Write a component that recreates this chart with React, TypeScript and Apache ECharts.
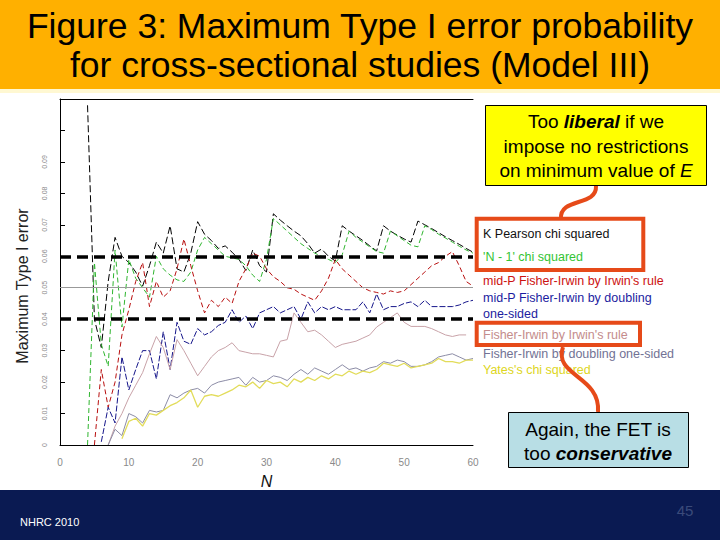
import React, { useEffect, useRef } from "react";
import * as echarts from "echarts";

const FONT = "'Liberation Sans', Arial, Helvetica, sans-serif";

// N = 4 .. 60
const N = [
  4, 5, 6, 7, 8, 9, 10, 11, 12, 13,
  14, 15, 16, 17, 18, 19, 20, 21, 22, 23,
  24, 25, 26, 27, 28, 29, 30, 31, 32, 33,
  34, 35, 36, 37, 38, 39, 40, 41, 42, 43,
  44, 45, 46, 47, 48, 49, 50, 51, 52, 53,
  54, 55, 56, 57, 58, 59, 60,
];

const pearson = [
  0.108, 0.040, 0.031, 0.052, 0.066, 0.060, 0.058, 0.055, 0.0505, 0.057,
  0.0645, 0.061, 0.0697, 0.056, 0.055, 0.061, 0.071, 0.067, 0.065, 0.0625,
  0.0633, 0.0613, 0.059, 0.0555, 0.062, 0.057, 0.055, 0.0735, 0.0715, 0.0697,
  0.068, 0.0665, 0.064, 0.061, 0.0623, 0.060, 0.0585, 0.0697, 0.068, 0.0665,
  0.065, 0.0633, 0.0617, 0.0697, 0.068, 0.0667, 0.0655, 0.0645, 0.0712, 0.070,
  0.0688, 0.0675, 0.0662, 0.065, 0.0638, 0.0625, 0.0613,
];

const nMinus1 = [
  0.000, 0.058, 0.032, 0.025, 0.062, 0.0375, 0.059, 0.053, 0.050, 0.047,
  0.060, 0.056, 0.054, 0.0525, 0.052, 0.055, 0.062, 0.066, 0.064, 0.062,
  0.060, 0.0595, 0.059, 0.057, 0.054, 0.052, 0.059, 0.072, 0.070, 0.068,
  0.066, 0.064, 0.0625, 0.061, 0.060, 0.059, 0.058, 0.0605, 0.068, 0.066,
  0.0645, 0.063, 0.0615, 0.061, 0.068, 0.0665, 0.065, 0.0635, 0.063, 0.0697,
  0.0685, 0.067, 0.0658, 0.0645, 0.0632, 0.062, 0.061,
];

const midPIrwin = [
  null, 0.000, 0.024, 0.012, 0.020, 0.035, 0.043, 0.052, 0.058, 0.044,
  0.052, 0.047, 0.049, 0.056, 0.0655, 0.057, 0.049, 0.042, 0.046, 0.044,
  0.047, 0.045, 0.052, 0.056, 0.061, 0.060, 0.056, 0.0535, 0.052, 0.050,
  0.0495, 0.048, 0.047, 0.046, 0.049, 0.053, 0.059, 0.056, 0.054, 0.052,
  0.050, 0.049, 0.0485, 0.048, 0.049, 0.0485, 0.049, 0.051, 0.053, 0.055,
  0.057, 0.058, 0.060, 0.0615, 0.057, 0.052, 0.0505,
];

const midPDoubling = [
  null, null, 0.001, 0.012, 0.007, 0.028, 0.0175, 0.024, 0.030, 0.030,
  0.021, 0.036, 0.024, 0.039, 0.033, 0.032, 0.037, 0.035, 0.036, 0.038,
  0.039, 0.043, 0.039, 0.041, 0.037, 0.042, 0.043, 0.044, 0.042, 0.043,
  0.044, 0.040, 0.0455, 0.042, 0.044, 0.043, 0.044, 0.043, 0.043, 0.043,
  0.0455, 0.042, 0.048, 0.043, 0.044, 0.044, 0.045, 0.0455, 0.044, 0.046,
  0.044, 0.044, 0.044, 0.044, 0.0445, 0.0455, 0.046,
];

const fisherIrwin = [
  null, null, null, 0.000, 0.006, 0.010, 0.015, 0.019, 0.023, 0.029,
  0.0345, 0.031, 0.024, 0.0335, 0.030, 0.026, 0.022, 0.025, 0.028, 0.030,
  0.031, 0.0325, 0.030, 0.0295, 0.029, 0.029, 0.0285, 0.028, 0.033, 0.0335,
  0.042, 0.039, 0.036, 0.0365, 0.035, 0.033, 0.031, 0.032, 0.0325, 0.033,
  0.034, 0.035, 0.0375, 0.039, 0.0405, 0.042, 0.039, 0.0377, 0.0377, 0.0377,
  0.037, 0.036, 0.035, 0.0345, 0.035, 0.035, null,
];

const fisherDoubling = [
  null, null, null, 0.000, 0.005, 0.003, 0.010, 0.009, 0.007, 0.011,
  0.0105, 0.011, 0.016, 0.015, 0.0165, 0.0175, 0.018, 0.0165, 0.019, 0.020,
  0.0205, 0.021, 0.0215, 0.019, 0.0215, 0.020, 0.0205, 0.022, 0.0215, 0.0205,
  0.0225, 0.024, 0.0225, 0.0245, 0.0235, 0.0225, 0.024, 0.0255, 0.024, 0.0245,
  0.0235, 0.0245, 0.025, 0.0265, 0.026, 0.027, 0.0265, 0.025, 0.025, 0.0255,
  0.0265, 0.028, 0.0285, 0.029, 0.028, 0.027, 0.0275,
];

const yates = [
  null, null, null, null, null, 0.002, 0.0075, 0.0085, 0.006, 0.010,
  0.0095, 0.011, 0.0125, 0.0135, 0.015, 0.0175, 0.012, 0.0155, 0.016, 0.0155,
  0.0165, 0.0175, 0.019, 0.0185, 0.020, 0.018, 0.0205, 0.0195, 0.020, 0.0185,
  0.021, 0.020, 0.0215, 0.0205, 0.022, 0.021, 0.0225, 0.022, 0.0235, 0.0225,
  0.0235, 0.023, 0.024, 0.026, 0.0255, 0.025, 0.026, 0.0245, 0.025, 0.0255,
  0.026, 0.0275, 0.0265, 0.0265, 0.026, 0.027, 0.027,
];

const referenceLevels = [0.06, 0.05, 0.04];

const seriesNames = [
  "K Pearson chi squared",
  "'N - 1' chi squared",
  "mid-P Fisher-Irwin by Irwin's rule",
  "mid-P Fisher-Irwin by doubling one-sided",
  "Fisher-Irwin by Irwin's rule",
  "Fisher-Irwin by doubling one-sided",
  "Yates's chi squared",
];

const legendLines = [
  { text: "K Pearson chi squared", color: "#111111" },
  { text: "'N - 1' chi squared", color: "#33c433" },
  { text: "mid-P Fisher-Irwin by Irwin's rule", color: "#cc1111" },
  { text: "mid-P Fisher-Irwin by doubling", color: "#1c1ca0" },
  { text: "one-sided", color: "#1c1ca0" },
  { text: "Fisher-Irwin by Irwin's rule", color: "#c48c8c" },
  { text: "Fisher-Irwin by doubling one-sided", color: "#727294" },
  { text: "Yates's chi squared", color: "#ddd622" },
];
const legendY = [234, 257, 281, 297.5, 313.5, 334.5, 353.5, 369.5];

const xTicks = [0, 10, 20, 30, 40, 50, 60];

export default function App() {
  const ref = useRef<HTMLDivElement>(null);

  useEffect(() => {
    if (!ref.current) return;
    const chart = echarts.init(ref.current, null, { renderer: "svg" });

    const toData = (arr: (number | null)[]) => N.map((n, i) => [n, arr[i]]);

    const lineDefs = [
      { data: pearson, color: "#000000", type: [7, 3] as any, width: 1 },
      { data: nMinus1, color: "#2fb52f", type: [5, 3] as any, width: 1 },
      { data: midPIrwin, color: "#b80f0f", type: [5, 3] as any, width: 1 },
      { data: midPDoubling, color: "#16168a", type: [6, 2] as any, width: 1 },
      { data: fisherIrwin, color: "#c8a2a8", type: "solid", width: 1 },
      { data: fisherDoubling, color: "#8c8ca6", type: "solid", width: 1 },
      { data: yates, color: "#e2dc5a", type: "solid", width: 1.3 },
    ];

    const series: any[] = lineDefs.map((d, i) => ({
      name: seriesNames[i],
      type: "line",
      data: toData(d.data),
      showSymbol: false,
      symbol: "none",
      connectNulls: false,
      silent: true,
      lineStyle: { color: d.color, type: d.type, width: d.width },
    }));

    series[series.length - 1].markLine = {
      silent: true,
      symbol: ["none", "none"],
      label: { show: false },
      data: referenceLevels.map((v) =>
        v === 0.05
          ? { yAxis: v, lineStyle: { color: "#999999", width: 1, type: "solid" } }
          : { yAxis: v, lineStyle: { color: "#000000", width: 3.5, type: [11, 6] } }
      ),
    };

    const legendGraphics = legendLines.map((l, i) => ({
      type: "text",
      x: 483,
      y: legendY[i],
      style: {
        text: l.text,
        fill: l.color,
        font: `12.5px ${FONT}`,
        align: "left",
        verticalAlign: "middle",
        textAlign: "left",
        textVerticalAlign: "middle",
      },
    }));

    const rich = (size: number, lh: number) => ({
      n: { fontSize: size, fontFamily: FONT, lineHeight: lh, fill: "#000" },
      b: { fontSize: size, fontFamily: FONT, lineHeight: lh, fontWeight: "bold", fontStyle: "italic", fill: "#000" },
      i: { fontSize: size, fontFamily: FONT, lineHeight: lh, fontStyle: "italic", fill: "#000" },
    });

    chart.setOption({
      animation: false,
      backgroundColor: "#ffffff",
      grid: { left: 60, top: 99, right: 247, bottom: 95, containLabel: false },
      xAxis: [
        {
          type: "value",
          min: xTicks[0],
          max: xTicks[xTicks.length - 1],
          interval: 10,
          axisLine: { show: true, lineStyle: { color: "#000", width: 1 } },
          axisTick: { show: false },
          splitLine: { show: false },
          axisLabel: { color: "#8a8a8a", fontSize: 10, margin: 12, fontFamily: FONT },
          name: "N",
          nameLocation: "middle",
          nameGap: 28,
          nameTextStyle: { fontStyle: "italic", fontSize: 16, color: "#111", fontFamily: FONT },
        },
        {
          type: "value",
          position: "top",
          min: 0,
          max: 60,
          axisLine: { show: true, lineStyle: { color: "#000", width: 1 } },
          axisTick: { show: false },
          axisLabel: { show: false },
          splitLine: { show: false },
        },
      ],
      yAxis: {
        type: "value",
        min: 0,
        max: 0.11,
        interval: 0.01,
        axisLine: { show: true, lineStyle: { color: "#000", width: 1 } },
        axisTick: { show: true, inside: true, length: 5, lineStyle: { color: "#000" } },
        splitLine: { show: false },
        axisLabel: {
          rotate: 90,
          fontSize: 7,
          color: "#8a8a8a",
          margin: 12,
          fontFamily: FONT,
          formatter: (v: number) => (v > 0.095 ? "" : v === 0 ? "0" : v.toFixed(2)),
        },
      },
      series,
      graphic: [
        { type: "rect", shape: { x: 0, y: 0, width: 720, height: 89 }, style: { fill: "#FFB000" } },
        { type: "rect", shape: { x: 0, y: 89, width: 720, height: 4 }, style: { fill: "#FFF8D2" } },
        {
          type: "text", x: 360, y: 26,
          style: { text: "Figure 3: Maximum Type I error probability", font: `35.5px ${FONT}`, fill: "#000",
            align: "center", verticalAlign: "middle", textAlign: "center", textVerticalAlign: "middle" },
        },
        {
          type: "text", x: 360, y: 65,
          style: { text: "for cross-sectional studies (Model III)", font: `35.5px ${FONT}`, fill: "#000",
            align: "center", verticalAlign: "middle", textAlign: "center", textVerticalAlign: "middle" },
        },
        {
          type: "text", x: 22, y: 286, rotation: Math.PI / 2,
          style: { text: "Maximum Type I error", font: `16px ${FONT}`, fill: "#222",
            align: "center", verticalAlign: "middle", textAlign: "center", textVerticalAlign: "middle" },
        },
        // yellow callout
        { type: "rect", shape: { x: 485.5, y: 105.5, width: 221, height: 80 }, style: { fill: "#FFFF00", stroke: "#000", lineWidth: 1 } },
        {
          type: "text", x: 596, y: 146,
          style: {
            text: "{n|Too }{b|liberal}{n| if we}\n{n|impose no restrictions}\n{n|on minimum value of }{i|E}",
            rich: rich(19, 24.5),
            align: "center", verticalAlign: "middle", textAlign: "center", textVerticalAlign: "middle",
          },
        },
        {
          type: "bezierCurve",
          shape: { x1: 596, y1: 186, cpx1: 597, cpy1: 207, cpx2: 559, cpy2: 197, x2: 561, y2: 219 },
          style: { stroke: "#E64A19", lineWidth: 4, fill: "none" },
        },
        // legend boxes
        { type: "rect", shape: { x: 476.7, y: 218.7, width: 166.6, height: 51.3 }, style: { fill: "none", stroke: "#E64A19", lineWidth: 4 } },
        { type: "rect", shape: { x: 476.7, y: 322.7, width: 163.3, height: 22.3 }, style: { fill: "none", stroke: "#E64A19", lineWidth: 4 } },
        ...legendGraphics,
        {
          type: "bezierCurve",
          shape: { x1: 563, y1: 347, cpx1: 553, cpy1: 376, cpx2: 601, cpy2: 376, x2: 598, y2: 412 },
          style: { stroke: "#E64A19", lineWidth: 4, fill: "none" },
        },
        // blue callout
        { type: "rect", shape: { x: 508.5, y: 412.5, width: 180, height: 55 }, style: { fill: "#B8DEE5", stroke: "#000", lineWidth: 1 } },
        {
          type: "text", x: 598, y: 441,
          style: {
            text: "{n|Again, the FET is}\n{n|too }{b|conservative}",
            rich: rich(19, 24),
            align: "center", verticalAlign: "middle", textAlign: "center", textVerticalAlign: "middle",
          },
        },
        // footer
        { type: "rect", shape: { x: 0, y: 490, width: 720, height: 50 }, style: { fill: "#0A1A52" } },
        {
          type: "text", x: 20, y: 522,
          style: { text: "NHRC 2010", font: `11px ${FONT}`, fill: "#ffffff",
            align: "left", verticalAlign: "middle", textAlign: "left", textVerticalAlign: "middle" },
        },
        {
          type: "text", x: 685, y: 510,
          style: { text: "45", font: `15px ${FONT}`, fill: "#3A4A7A",
            align: "center", verticalAlign: "middle", textAlign: "center", textVerticalAlign: "middle" },
        },
      ],
    });

    return () => chart.dispose();
  }, []);

  return (
    <div
      ref={ref}
      style={{ position: "fixed", left: 0, top: 0, width: 720, height: 540, background: "#fff" }}
    />
  );
}
